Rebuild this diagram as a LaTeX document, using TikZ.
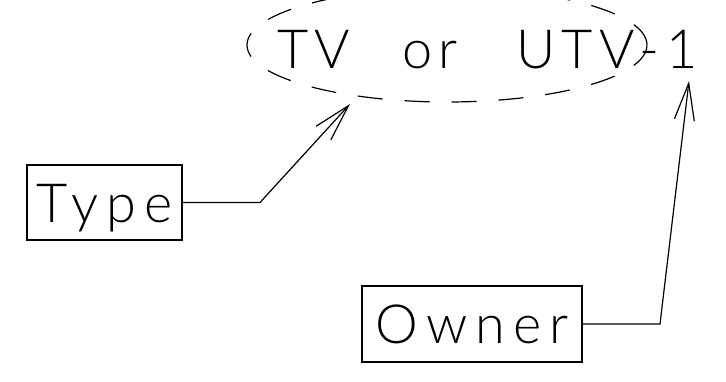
\documentclass[tikz,border=0pt]{standalone}
\usepackage{fontspec}
\usetikzlibrary{arrows.meta,shapes.geometric}
\newfontfamily\drawfont{Lato Light}[LetterSpace=15]
\newfontfamily\namefont{Lato Light}[LetterSpace=12]
\tikzset{
  lbl/.style={inner sep=0pt, font=\namefont\fontsize{54pt}{60pt}\selectfont},
  box/.style={draw, line width=1.2pt, inner sep=0pt, text height=39pt, text depth=0pt,
              font=\drawfont\fontsize{54pt}{60pt}\selectfont},
  ring/.style={draw, ellipse, line width=1.2pt, dash pattern=on 25pt off 22pt, inner sep=0pt},
  conn/.style={line width=1.2pt, -{Straight Barb[length=37pt, width=20pt, line width=1.2pt]}}
}
\begin{document}
\begin{tikzpicture}[x=1pt, y=-1pt]
\useasboundingbox (0,0) rectangle (726,381);
\node[ring, minimum width=400pt, minimum height=114pt] (ell) at (447,45) {};
\node[lbl, anchor=base west] (name) at (277,68.5) {TV\hspace{52pt}or\hspace{58pt}UTV-1};
\node[box, minimum width=155pt, minimum height=75pt] (type) at (104.5,202.5) {Type};
\node[box, minimum width=220pt, minimum height=76pt] (owner) at (472,324) {Owner};
\coordinate (b1) at (260,202.5);
\coordinate (t1) at (350,104);
\coordinate (b2) at (660,324);
\coordinate (t2) at (689,81);
\draw[conn] (type.east) -- (b1) -- (t1);
\draw[conn] (owner.east) -- (b2) -- (t2);
\end{tikzpicture}
\end{document}
